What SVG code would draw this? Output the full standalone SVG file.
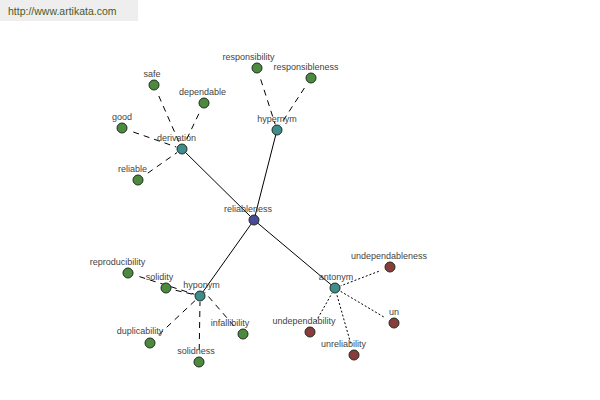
<svg xmlns="http://www.w3.org/2000/svg" width="600" height="400" viewBox="0 0 600 400">
<style>
text{font-family:"Liberation Sans",Arial,sans-serif;font-size:9px;fill:#444;text-anchor:middle}
.hdr{font-size:10.5px;fill:#4a5a2a;text-anchor:start}
.n{stroke:#1e2e1e;stroke-width:1}
.g{fill:#4d8a3f}
.t{fill:#3f8c8c}
.r{fill:#8a3c3c}
.b{fill:#4a4a98}
.solid{stroke:#000;stroke-width:1;fill:none}
.dash{stroke:#000;stroke-width:1;stroke-dasharray:6,5;fill:none}
.dot{stroke:#000;stroke-width:1;stroke-dasharray:2,2;fill:none}
</style>
<rect x="0" y="0" width="600" height="400" fill="#fff"/>
<rect x="0" y="0" width="138" height="21" fill="#eeeeee"/>
<text class="hdr" x="8" y="15">http://www.artikata.com</text>
<g id="connectors">
<line class="solid" x1="254" y1="220" x2="182" y2="149"/>
<line class="solid" x1="254" y1="220" x2="277" y2="130"/>
<line class="solid" x1="254" y1="220" x2="200" y2="296"/>
<line class="solid" x1="254" y1="220" x2="335" y2="288"/>
<line class="dash" x1="158.8" y1="96" x2="179.6" y2="143.5"/>
<line class="dash" x1="198.8" y1="113.8" x2="184.6" y2="143.6"/>
<line class="dash" x1="133.3" y1="132" x2="176.3" y2="147"/>
<line class="dash" x1="147.8" y1="173.1" x2="177.1" y2="152.5"/>
<line class="dash" x1="260.7" y1="79.4" x2="275.2" y2="124.3"/>
<line class="dash" x1="304.4" y1="88" x2="280.3" y2="125"/>
<line class="dash" x1="139.4" y1="276.6" x2="194.3" y2="294.2"/>
<line class="dash" x1="175.7" y1="290.3" x2="194.2" y2="294.6"/>
<line class="dash" x1="158.7" y1="334.8" x2="195.6" y2="300.1"/>
<line class="dash" x1="199.2" y1="350" x2="200" y2="302"/>
<line class="dash" x1="234" y1="326" x2="204.5" y2="292"/>
<line class="dot" x1="378.8" y1="271.3" x2="340.6" y2="285.9"/>
<line class="dot" x1="383.7" y1="316.9" x2="340.2" y2="291.1"/>
<line class="dot" x1="315.9" y1="321.6" x2="332" y2="293.2"/>
<line class="dot" x1="350.7" y1="343.4" x2="336.6" y2="293.8"/>
</g>
<g id="reliableness"><circle class="n b" cx="254" cy="220" r="5"/><text x="248" y="212">reliableness</text></g>
<g id="derivation"><circle class="n t" cx="182" cy="149" r="5"/><text x="176.5" y="141">derivation</text></g>
<g id="hypernym"><circle class="n t" cx="277" cy="130" r="5"/><text x="277" y="122">hypernym</text></g>
<g id="hyponym"><circle class="n t" cx="200" cy="296" r="5"/><text x="201.5" y="288">hyponym</text></g>
<g id="antonym"><circle class="n t" cx="335" cy="288" r="5"/><text x="336" y="280">antonym</text></g>
<g id="safe"><circle class="n g" cx="154" cy="85" r="5"/><text x="152" y="77">safe</text></g>
<g id="dependable"><circle class="n g" cx="204" cy="103" r="5"/><text x="202.5" y="95">dependable</text></g>
<g id="good"><circle class="n g" cx="122" cy="128" r="5"/><text x="122" y="120">good</text></g>
<g id="reliable"><circle class="n g" cx="138" cy="180" r="5"/><text x="132.5" y="172">reliable</text></g>
<g id="responsibility"><circle class="n g" cx="257" cy="68" r="5"/><text x="248.5" y="60">responsibility</text></g>
<g id="responsibleness"><circle class="n g" cx="311" cy="78" r="5"/><text x="306" y="70">responsibleness</text></g>
<g id="reproducibility"><circle class="n g" cx="128" cy="273" r="5"/><text x="117.5" y="265">reproducibility</text></g>
<g id="solidity"><circle class="n g" cx="166" cy="288" r="5"/><text x="159.5" y="280">solidity</text></g>
<g id="duplicability"><circle class="n g" cx="150" cy="343" r="5"/><text x="140" y="334">duplicability</text></g>
<g id="solidness"><circle class="n g" cx="199" cy="362" r="5"/><text x="196" y="354">solidness</text></g>
<g id="infallibility"><circle class="n g" cx="243" cy="334" r="5"/><text x="230" y="326">infallibility</text></g>
<g id="undependableness"><circle class="n r" cx="390" cy="267" r="5"/><text x="389" y="259">undependableness</text></g>
<g id="un"><circle class="n r" cx="394" cy="323" r="5"/><text x="394" y="315">un</text></g>
<g id="undependability"><circle class="n r" cx="310" cy="332" r="5"/><text x="304" y="324">undependability</text></g>
<g id="unreliability"><circle class="n r" cx="354" cy="355" r="5"/><text x="343.5" y="347">unreliability</text></g>
</svg>
